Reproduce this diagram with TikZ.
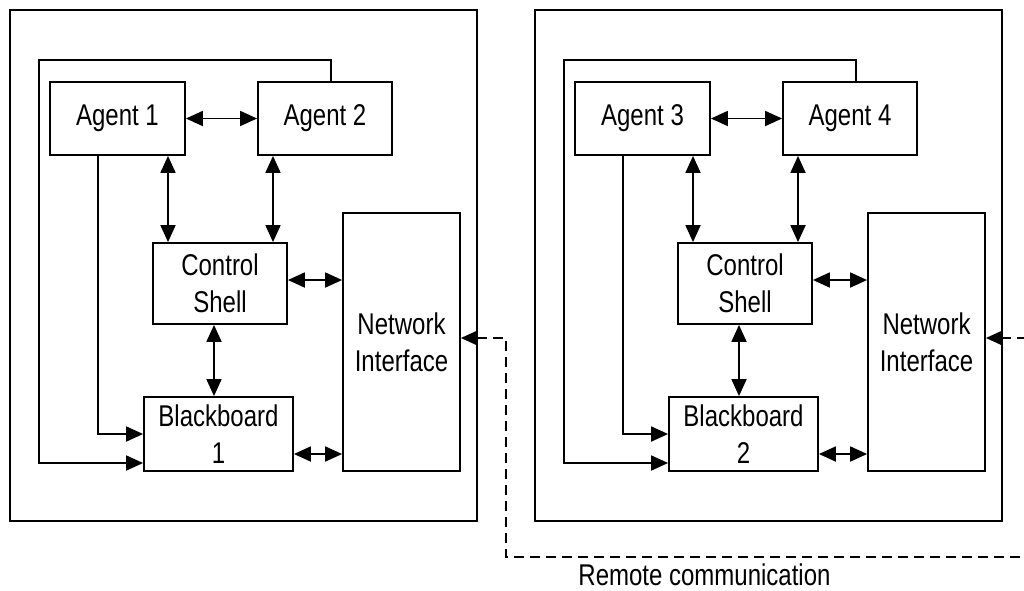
\documentclass[tikz,border=0pt]{standalone}
\usepackage{fontspec}
\setmainfont{Liberation Sans}[FakeStretch=0.8]
\usetikzlibrary{arrows.meta}
\begin{document}
\begin{tikzpicture}[x=1pt,y=-1pt,
  txt/.style={font=\fontsize{30}{37}\selectfont},
  box/.style={draw,line width=1.8pt,inner sep=0pt,align=center,txt},
  link/.style={line width=1.8pt},
  dbl/.style={link,{Triangle[length=17pt,width=15pt]}-{Triangle[length=17pt,width=15pt]}},
  one/.style={link,-{Triangle[length=17pt,width=15pt]}},
  remote/.style={dash pattern=on 10pt off 6pt}]
\useasboundingbox (0,0) rectangle (1024,590);
\clip (0,0) rectangle (1024,590);
\foreach \s/\dx/\a/\b/\n in {L/0/1/2/1, R/525/3/4/2}{
 \begin{scope}[xshift=\dx]
  \node[box,minimum width=467,minimum height=511] (S\s) at (243.5,265.5) {};
  \node[box,minimum width=135,minimum height=73] (A\s) at (117.5,118.5) {Agent \a};
  \node[box,minimum width=134,minimum height=73] (B\s) at (325,118.5) {Agent \b};
  \node[box,minimum width=134,minimum height=81] (C\s) at (220,283.5) {Control\\Shell};
  \node[box,minimum width=117,minimum height=258] (N\s) at (401.5,342) {Network\\Interface};
  \node[box,minimum width=149,minimum height=74] (K\s) at (218.5,434) {Blackboard\\\n};
  \coordinate (v1\s) at (168,0);
  \coordinate (v2\s) at (273,0);
  \coordinate (v3\s) at (214,0);
  \coordinate (h1\s) at (0,280);
  \coordinate (h2\s) at (0,454);
  \coordinate (p1\s) at (98,434);
  \coordinate (q1\s) at (331,60);
  \coordinate (q2\s) at (39,60);
  \coordinate (q3\s) at (39,463);
  \draw[dbl] (A\s) -- (B\s);
  \draw[dbl] (A\s.south -| v1\s) -- (C\s.north -| v1\s);
  \draw[dbl] (B\s.south -| v2\s) -- (C\s.north -| v2\s);
  \draw[dbl] (C\s.east |- h1\s) -- (N\s.west |- h1\s);
  \draw[dbl] (C\s.south -| v3\s) -- (K\s.north -| v3\s);
  \draw[dbl] (K\s.east |- h2\s) -- (N\s.west |- h2\s);
  \draw[one] (A\s.south -| p1\s) |- (K\s.west |- p1\s);
  \draw[one] (B\s.north -| q1\s) -- (q1\s) -- (q2\s) -- (q3\s) -- (K\s.west |- q3\s);
 \end{scope}
}
\coordinate (d1) at (506,338);
\coordinate (d2) at (506,557);
\coordinate (d3) at (1045,557);
\coordinate (d4) at (1045,338);
\draw[dbl,remote] (NL.east |- d1) -- (d1) -- (d2) -- (d3) -- (d4) -- (NR.east |- d4);
\node[txt,anchor=base,inner sep=0pt] (rc) at (704.5,585) {Remote communication};
\end{tikzpicture}
\end{document}
